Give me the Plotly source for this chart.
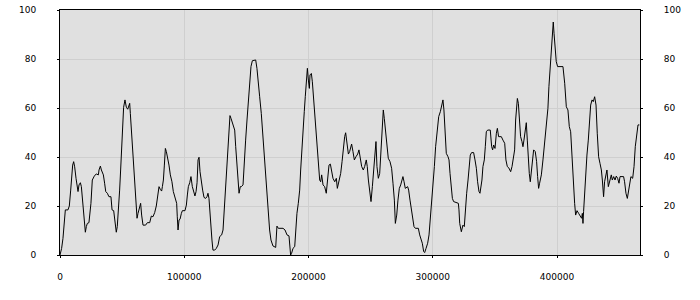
import plotly.graph_objects as go

x_vals = [
    0, 1300, 2400, 3500, 4300, 6400, 7500, 8600, 9400, 10200, 11000, 11800, 12900, 14000, 14500,
    15300, 16400, 17200, 18000, 18800, 19600, 20400, 21200, 22000, 23300, 24100, 24900, 26000,
    27600, 29200, 30900, 31400, 32500, 33300, 34900, 35900, 36800, 38100, 39400, 41000, 41900,
    43200, 44000, 44800, 45300, 46100, 46900, 48000, 48800, 49600, 50400, 51200, 52300, 53400,
    54500, 55300, 56100, 56600, 57700, 58500, 59600, 60400, 61200, 62000, 62800, 63800, 64900,
    65700, 66800, 68900, 70300, 72200, 73500, 74800, 76200, 77500, 78600, 79700, 80700, 81800,
    82400, 83200, 84000, 84800, 85600, 86700, 87700, 88800, 90100, 91200, 92600, 93900, 94400,
    95000, 95800, 96600, 97700, 98500, 100600, 101700, 102500, 103300, 104400, 105400, 106500,
    107600, 108600, 109500, 110300, 111100, 111900, 112700, 113700, 114800, 115900, 117200,
    118300, 119100, 119900, 120700, 121500, 122300, 123100, 124500, 125800, 127200, 128500,
    130100, 131200, 132000, 133100, 133900, 134900, 135700, 136800, 137600, 138700, 139800,
    140600, 141400, 142500, 143500,
    144100, 145100, 145900, 147300, 148400, 149400, 150500, 151600, 152600, 153700, 154800,
    156700, 157500, 158500, 159600, 160700, 162000, 163100, 164200, 165500, 166600, 167700,
    168700, 169800, 171400, 173600, 174100, 174600, 175700, 179500, 181100, 182700, 184300,
    184800, 185600, 186400, 187500, 188900, 189700, 190700, 191800, 192900, 193700, 194500,
    195600, 196600, 197400, 198300, 199100, 199900, 200700, 201200, 202300, 203100, 203900,
    204700, 205800, 206800, 207900, 209000, 209800, 210600, 211700, 213000, 214300, 215400,
    216500, 217600, 218600, 219700, 221100, 222400, 223200, 224300, 225900, 227000, 228000,
    229100, 229900, 231000, 232100, 233100, 234700, 235800, 236900, 238200, 239600, 240600,
    241700, 242800, 244100, 245200, 246500, 247300, 248200, 249200, 250300, 251400, 252400,
    253500, 254300, 255100, 256200, 257300, 258300, 259400, 260200, 261000, 262100, 263200,
    264200, 265600, 266900, 268000, 269100, 269900, 271000, 272000, 273100, 274200, 275200,
    276000, 276900, 277900, 279800, 280600, 281700, 282800, 283800, 284900, 286000, 288400,
    289500, 290500, 291600, 292700, 293500, 294600, 295900, 297000, 298000, 299100, 300200,
    301300, 302300, 303400, 304800, 306100, 307200, 308200, 309000, 310100, 310900, 312300,
    313100, 313900, 314900, 315800, 316800, 318400, 320600, 321100, 321700,
    323000, 324300, 325400, 326200, 327300, 328400, 329400, 330200, 331300, 332900, 334000,
    335100, 336100, 337200, 338000, 338800, 339600, 340400, 341500, 342300, 343100, 344200,
    346300, 347400, 348200, 349000, 350100, 351200, 352000, 353000, 355200, 356500, 357900,
    358900, 360000, 361400, 362700, 363800, 364800, 365900, 366700, 367500, 368100, 368900,
    369900, 370700, 371800, 372600, 373400, 374500, 375300, 376100, 376900, 377700, 378500,
    379300, 380400, 381200, 382500, 383600, 384400, 385200, 386000, 387400, 388700, 389800,
    390900, 391900, 392700, 393500, 394400, 395400, 396200, 397000, 397600, 398400, 399400,
    400500, 404800, 406200, 407500, 408800, 409900, 411000, 412100, 413100, 414200, 415000,
    416100, 417400, 418800, 419800, 420400, 420900, 421400, 422300, 423300, 424100, 425200,
    426300, 427100, 428200, 429200, 430300, 431400, 432400, 433500, 434600, 435700, 436500,
    437500, 438300, 439400, 440200, 441300, 442400, 443700, 444500, 445600, 446700, 447700,
    448800, 449900, 450700, 453600, 454400, 455500, 456600, 457700, 458700, 459500, 460900,
    462000, 463000, 464100, 465200, 466300,
]

y_vals = [
    0, 2.7, 6.8, 14, 18.4, 18.4, 20, 26.5, 32.7, 36.7, 38.1, 36, 31.3, 27.9, 25.9,
    28.6, 29.5, 27.9, 23.8, 19, 12.9, 9.3, 11.6, 12.9, 13.2, 16.3, 21.1, 30.6,
    32.2, 33.1, 32.7, 34.7, 36.3, 34.7, 32.7, 29.3, 25.9, 25.2, 23.8, 23.8, 18.4,
    18.1, 15, 10.2, 9.3, 11.6, 17, 26.5, 34.7, 44.2, 54.4, 60.3, 63.3, 60.3,
    59.5, 61.2, 61.9, 57.8, 49, 39.5, 31.3, 26.5, 21.1, 15, 17, 19.7, 21.1,
    16.3, 12.2, 12.2, 13.2, 13.2, 15.9, 15.6, 17.3, 20, 23.8, 27.9, 26.8, 26.1,
    27.9, 30.6, 36.7, 43.5, 42.2, 39.5, 36.7, 32.7, 29.9, 25.9, 23.8, 21.1, 15.6,
    10.2, 14.3, 14.6, 17, 18.1, 18.1, 20.4, 24.5, 27.9, 29.5, 32, 27.9,
    25.9, 24.1, 25.9, 29.5, 38.8, 39.9, 34, 29.9, 26.5, 23.5, 23.1,
    23.8, 25.2, 23.1, 16.3, 9.5, 6.1, 2, 2, 2.7, 4.1, 7.5,
    8.2, 10.2, 17, 25.2, 34, 38.1, 44.9, 56.9, 55.8, 54, 53.1,
    51, 44.2, 35.4, 29.9,
    25.2, 27.9, 27.9, 28.6, 40.1, 46.9, 55.1, 63.3, 71.4, 76.9, 79.3,
    79.3, 79.6, 76.2, 71.4, 64.6, 57.8, 49.7, 42.9, 33.3, 22.4, 15.6,
    10.2, 6.1, 3.7, 3.1, 7.5, 11.8, 10.9, 10.9, 10.2, 8.2, 7.8,
    3.4, 0, 0.7, 2.7, 3.4, 10.2, 17, 21.1, 26.5, 34.7, 42.9,
    52.4, 58.5, 64.6, 70.1, 76.2, 71.4, 68, 73.5, 74.1, 70.7, 65.3,
    59.2, 52.4, 44.2, 36.1, 30.6, 29.9, 32.7, 28.6, 27.9, 25.2, 32.7,
    36.7, 37.1, 33.3, 31.3, 29.9, 31.3, 27.2, 29.9, 33.3, 38.1, 44.2,
    48.3, 49.9, 45.6, 41.2, 42.2, 45.3, 42.2, 38.8, 40.1, 41.2, 42.9,
    38.8, 36.1, 34.7, 36.1, 38.8, 36.1, 30.6, 25.2, 21.8, 27.9, 34.7,
    42.9, 46.3, 36.1, 31.3, 33.3, 42.9, 51.7, 59.2, 55.8, 49.7, 44.2,
    39.5, 38.1, 35.4, 29.3, 22.4, 12.9, 16.3, 22.4, 27.2, 28.6, 30.6,
    32, 29.9, 27.2, 27.9, 26.5, 22.4, 18.4, 15.6, 11.6, 10.9, 10.9,
    8.2, 6.8, 4.8, 1.4, 1, 2.7, 4.8, 8.2, 14.3, 19.7, 27.9,
    36.1, 44.2, 49.7, 56.5, 58.5, 60.5, 63.3, 59.2, 49.7, 41.5, 40.1,
    38.8, 33.3, 27.9, 23.1, 21.8, 21.4, 21.1, 18.4, 12.9,
    9.5, 12.2, 11.6, 19, 25.2, 30.6, 36.7, 40.8, 41.8, 41.8, 38.8,
    35.4, 29.9, 25.9, 25.2, 27.2, 30.6, 36.1, 38.8, 44.2, 50.3, 51,
    51, 44.2, 42.9, 44.9, 43.5, 49.7, 51.7, 48.3, 48.3, 46.9, 45.6,
    38.8, 36.1, 35.4, 34, 36.1, 38.8, 42.9, 55.1, 60.5, 63.9, 61.9,
    55.1, 48.3, 46.3, 44.2, 46.9, 51, 54, 46.9, 37.4, 33.3, 29.9,
    34.7, 40.8, 42.9, 42.2, 38.1, 32, 27.2, 29.3, 32.7, 38.8, 44.2,
    50.3, 54.4, 59.9, 68.7, 75.5, 80.3, 89.1, 95.1, 90.5, 83.7, 78.9,
    76.9, 76.9, 70.1, 60.5, 59.2, 52.4, 50.3, 38.8, 27.9, 21.1, 16.3,
    18.1, 17, 15.6, 15, 17, 12.9, 17.7, 26.5, 34.7, 40.8, 46.9,
    55.1, 61.2, 63.3, 62.6, 64.6, 61.2, 49.7, 40.1, 37.4, 34.7, 30.6,
    23.8, 29.9, 33.3, 34.7, 27.9, 30.6, 32.7, 30.6, 32, 30.6, 32.2,
    31.3, 29.3, 32, 32, 29.9, 25.2, 23.1, 26.5, 28.6, 32, 31.3,
    36.1, 44.2, 50.3, 53.1, 53.1,
]

x_ticks = [0, 100000, 200000, 300000, 400000]
y_ticks = [0, 20, 40, 60, 80, 100]

font = dict(family="DejaVu Sans", size=9, color="#000000")

fig = go.Figure()
fig.add_trace(go.Scatter(x=x_vals, y=y_vals, mode="lines",
                         line=dict(color="#000000", width=1),
                         showlegend=False, hoverinfo="skip"))
fig.add_trace(go.Scatter(x=x_vals, y=y_vals, mode="lines", yaxis="y2",
                         line=dict(color="rgba(0,0,0,0)", width=0),
                         showlegend=False, hoverinfo="skip"))

fig.update_layout(
    width=700, height=300,
    margin=dict(l=60, r=60, t=10, b=45),
    paper_bgcolor="#ffffff",
    plot_bgcolor="#e0e0e0",
    font=font,
    xaxis=dict(range=[0, 466800], tickvals=x_ticks, ticktext=[str(v) for v in x_ticks],
               showgrid=True, gridcolor="#cfcfcf", gridwidth=1, zeroline=False,
               showline=True, linecolor="#000000", linewidth=1, mirror=True,
               ticks="outside", ticklen=2, tickcolor="#000000", automargin=False,
               ticklabelstandoff=11, tickfont=font),
    yaxis=dict(range=[0, 100], tickvals=y_ticks,
               showgrid=True, gridcolor="#cfcfcf", gridwidth=1, zeroline=False,
               showline=True, linecolor="#000000", linewidth=1,
               ticks="outside", ticklen=2, tickcolor="#000000", automargin=False,
               ticklabelstandoff=19, tickfont=font),
    yaxis2=dict(range=[0, 100], tickvals=y_ticks, overlaying="y", side="right",
                showgrid=False, zeroline=False,
                showline=True, linecolor="#000000", linewidth=1,
                ticks="outside", ticklen=2, tickcolor="#000000", automargin=False,
                ticklabelstandoff=19, tickfont=font),
)

fig.write_html("out.html")
